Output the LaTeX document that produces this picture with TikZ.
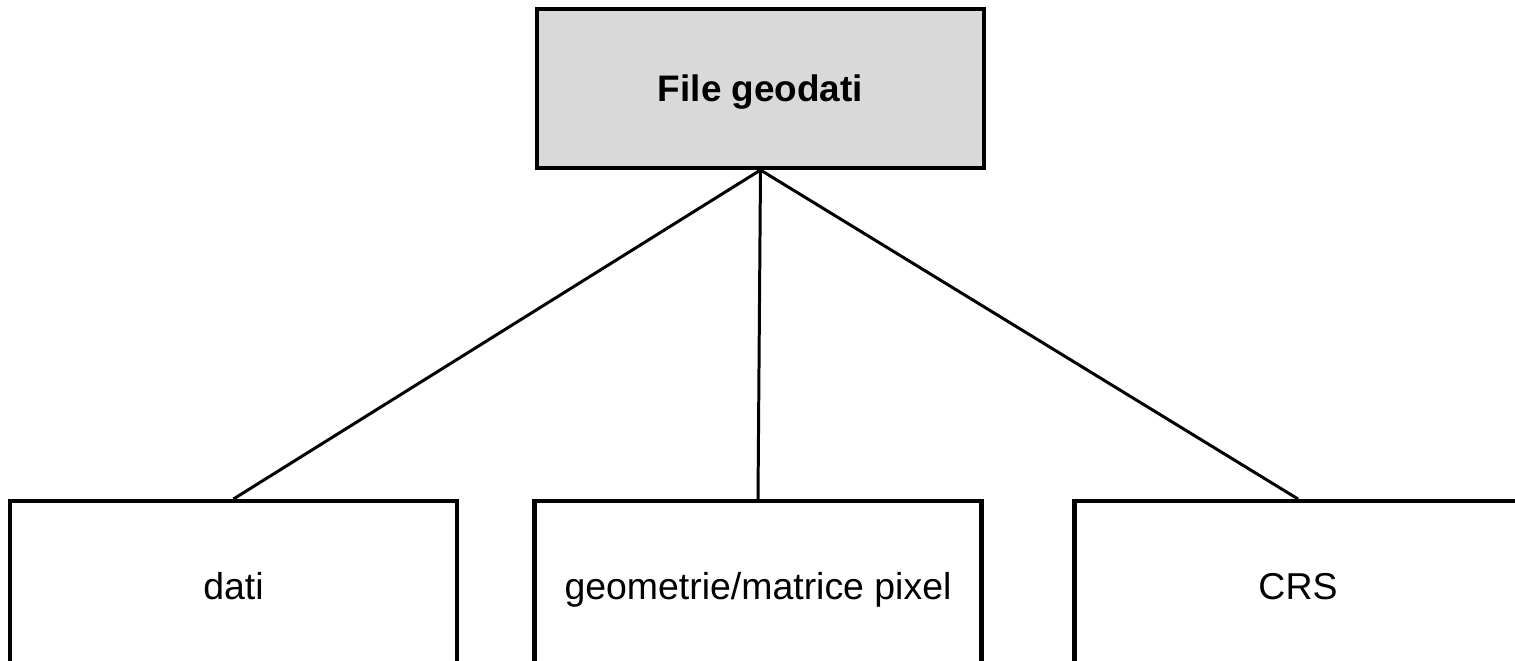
\documentclass[tikz,border=0pt]{standalone}
\usepackage{fontspec}
\setmainfont{Liberation Sans}
\definecolor{boxgray}{HTML}{D9D9D9}

\begin{document}
\begin{tikzpicture}[
    font=\fontsize{21.3}{25}\selectfont,
    rootbox/.style={draw, line width=2.3pt, fill=boxgray, minimum width=8.94cm, minimum height=3.18cm, text height=16pt, text depth=1pt, font=\fontsize{21}{25}\selectfont\bfseries},
    leafbox/.style={draw, line width=2.3pt, fill=white, minimum width=8.94cm, minimum height=3.4cm, text height=16pt, text depth=1pt},
    link/.style={line width=1.7pt}
  ]
  % frame
  \useasboundingbox (0, 0) rectangle (30.3, -13.22);
  \clip (0, 0) rectangle (30.3, -13.22);

  % root
  \node[rootbox] (file) at (15.21, -1.77) {File geodati};

  % leaves
  \node[leafbox] (dati) at (4.67, -11.72) {dati};
  \node[leafbox] (geom) at (15.16, -11.72) {geometrie/matrice pixel};
  \node[leafbox] (crs) at (25.96, -11.72) {CRS};

  % links
  \foreach \leaf in {dati, geom, crs} {
    \draw[link] (file.south) -- (\leaf.north);
  }
\end{tikzpicture}
\end{document}
